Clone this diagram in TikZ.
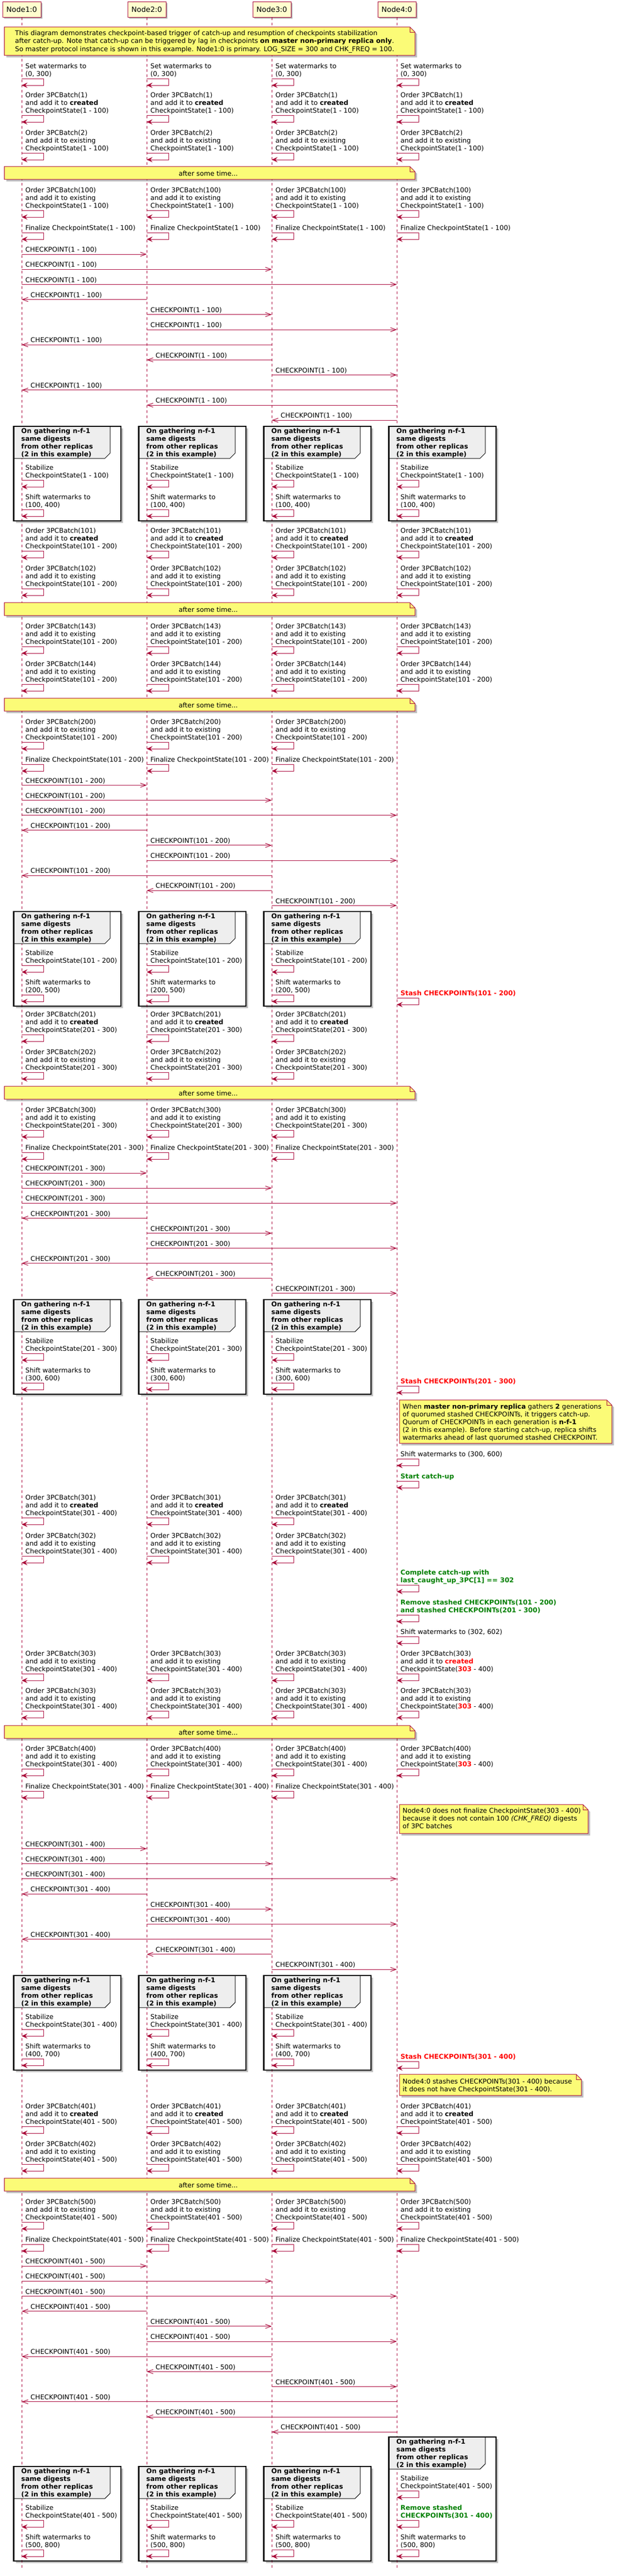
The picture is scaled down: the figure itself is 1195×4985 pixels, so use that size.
\documentclass[tikz,border=0pt]{standalone}
\usepackage{fontspec}
\setmainfont{DejaVu Sans}
\usetikzlibrary{arrows.meta,shadows}

\definecolor{umlred}{HTML}{A80036}
\definecolor{umlbox}{HTML}{FEFECE}
\definecolor{umlnote}{HTML}{FBFB77}
\definecolor{umlhead}{HTML}{EEEEEE}
\definecolor{umlgreen}{HTML}{008000}
\definecolor{umlstash}{HTML}{FF0000}

\pgfdeclarelayer{paper}
\pgfdeclarelayer{groupbg}
\pgfdeclarelayer{lanes}
\pgfsetlayers{paper,groupbg,lanes,main}

\newcommand{\msgfont}{\fontsize{12.8}{15}\selectfont}
\newcommand{\tstrut}{\rule{0pt}{10pt}}
\newcommand{\redb}[1]{\textcolor{umlstash}{\textbf{#1}}}
\newcommand{\grnb}[1]{\textcolor{umlgreen}{\textbf{#1}}}
\newcommand{\ordnew}[2]{Order 3PCBatch(#1)\\and add it to \textbf{created}\\CheckpointState(#2)}
\newcommand{\ordold}[2]{Order 3PCBatch(#1)\\and add it to existing\\CheckpointState(#2)}
\newcommand{\threeway}{1/2,1/3,1/4,2/1,2/3,2/4,3/1,3/2,3/4}
\newcommand{\fourway}{1/2,1/3,1/4,2/1,2/3,2/4,3/1,3/2,3/4,4/1,4/2,4/3}

% self message: name, lifeline, y of first line, lines, text
\newcommand{\selfmsg}[5]{%
  \pgfmathsetmacro{\ytxt}{#3-5.5}%
  \pgfmathsetmacro{\ytop}{#3+15*(#4-1)+9.5}%
  \pgfmathsetmacro{\ybot}{\ytop+12.5}%
  \node[msgtext, xshift=7pt] (#1) at (#2 |- 0,\ytxt) {\tstrut #5};%
  \coordinate (#1-a) at (#2 |- 0,\ytop);%
  \coordinate (#1-b) at (#2 |- 0,\ybot);%
  \draw[selfloop] (#1-a) -| ([xshift=42pt]#1-b) -- (#1-b);%
}

% message: sender, receiver, y, tag, label
\newcommand{\chkmsg}[5]{%
  \ifnum#1<#2\relax\def\cklx{7pt}\edef\cknd{n#1}\else\def\cklx{17pt}\edef\cknd{n#2}\fi
  \draw[chkline] (n#1 |- 0,#3) -- (n#2 |- 0,#3);%
  \node[msgtext, xshift=\cklx, yshift=14.5pt] (ck#4#1#2) at (\cknd |- 0,#3) {\tstrut #5};%
}

% group frame: name, lifeline x, top, bottom
\newcommand{\gatherbox}[4]{%
  \pgfmathsetmacro{\gxl}{#2-15.5}\pgfmathsetmacro{\gxr}{#2+192}%
  \pgfmathsetmacro{\gxh}{#2+171}\pgfmathsetmacro{\gxc}{#2+161}%
  \pgfmathsetmacro{\gyc}{#3+52}\pgfmathsetmacro{\gyh}{#3+62}%
  \begin{pgfonlayer}{groupbg}
    \fill[white, groupshadow] (\gxl,#3) rectangle (\gxr,#4);
  \end{pgfonlayer}
  \filldraw[grouphead] (\gxl,#3) -- (\gxh,#3) -- (\gxh,\gyc) -- (\gxc,\gyh) -- (\gxl,\gyh) -- cycle;
  \draw[groupframe] (\gxl,#3) rectangle (\gxr,#4);
  \node[headtext] (#1) at (#2-1,#3+3.5) {\tstrut On gathering n-f-1\\same digests\\from other replicas\\(2 in this example)};
}

% note shape with folded corner
\newcommand{\umlnote}[4]{%
  \filldraw[notebox] (#1,#2) -- ({#3-10},#2) -- (#3,{#2+10}) -- (#3,#4) -- (#1,#4) -- cycle;
  \draw[notefold] ({#3-10},#2) -- ({#3-10},{#2+10}) -- (#3,{#2+10});
}
\newcommand{\afterwhile}[2]{%
  \umlnote{8.4}{#2}{803}{#2+25}%
  \node[notetext, anchor=center] (#1) at (403,#2+13.5) {after some time...};
}

\begin{document}
\begin{tikzpicture}[x=1pt, y=-1pt,
    participant/.style={draw=umlred, fill=umlbox, line width=1pt, minimum width=74pt,
      minimum height=30pt, inner sep=0pt, font=\fontsize{14}{16}\selectfont,
      drop shadow={shadow xshift=3pt, shadow yshift=-3pt, opacity=0.3, fill=black}},
    lifeline/.style={draw=umlred, line width=0.8pt, dash pattern=on 5pt off 5pt},
    msgtext/.style={anchor=north west, inner sep=0pt, align=left, font=\msgfont},
    headtext/.style={anchor=north west, inner sep=0pt, align=left, font=\msgfont\bfseries},
    notetext/.style={inner sep=0pt, align=left, font=\msgfont},
    selfloop/.style={draw=umlred, line width=1pt, -{Stealth[length=11pt, width=10pt, inset=4pt]}},
    chkline/.style={draw=umlred, line width=1pt, -{Straight Barb[length=11pt, width=8pt]}},
    notebox/.style={fill=umlnote, draw=umlred, line width=1pt,
      drop shadow={shadow xshift=4pt, shadow yshift=-4pt, opacity=0.25, fill=black}},
    notefold/.style={draw=umlred, line width=1pt},
    groupshadow/.style={drop shadow={shadow xshift=4pt, shadow yshift=-4pt, opacity=0.25, fill=black}},
    groupframe/.style={draw=black, line width=2.5pt},
    grouphead/.style={fill=umlhead, draw=black, line width=1pt}]

    \useasboundingbox (0,0) rectangle (1195,4985);
    \begin{pgfonlayer}{paper}
        \fill[white] (0,0) rectangle (1195,4985);
    \end{pgfonlayer}

    % Participants
    \foreach \i/\x in {1/42,2/284,3/526,4/768}
        \node[participant] (n\i) at (\x,18) {Node\i:0};
    \begin{pgfonlayer}{lanes}
        \foreach \i in {1,...,4}
            \draw[lifeline] (n\i.south) -- (n\i |- 0,4973);
    \end{pgfonlayer}

    % Intro note
    \umlnote{8.4}{52}{803}{107}
    \node[notetext, anchor=north west, font=\fontsize{12.8}{15.7}\selectfont] (intro) at (29,57.8)
        {\tstrut This diagram demonstrates checkpoint-based trigger of catch-up and resumption of checkpoints stabilization\\
         after catch-up. Note that catch-up can be triggered by lag in checkpoints \textbf{on master non-primary replica only}.\\
         So master protocol instance is shown in this example. Node1:0 is primary. LOG\_SIZE = 300 and CHK\_FREQ = 100.};

    % Checkpoint 1 - 100
    \foreach \n in {n1,n2,n3,n4} {
        \selfmsg{\n-wm0}{\n}{128}{2}{Set watermarks to\\(0, 300)}
        \selfmsg{\n-o1}{\n}{184}{3}{\ordnew{1}{1 - 100}}
        \selfmsg{\n-o2}{\n}{257}{3}{\ordold{2}{1 - 100}}
        \selfmsg{\n-o100}{\n}{368}{3}{\ordold{100}{1 - 100}}
        \selfmsg{\n-f100}{\n}{441}{1}{Finalize CheckpointState(1 - 100)}
    }
    \afterwhile{t1}{322}
    \foreach \s/\t [count=\k from 0] in \fourway {
        \pgfmathsetmacro{\my}{492+29.2*\k}
        \chkmsg{\s}{\t}{\my}{a}{CHECKPOINT(1 - 100)}
    }
    \foreach \n/\x in {n1/42,n2/284,n3/526,n4/768} {
        \gatherbox{\n-g1}{\x}{825}{1008}
        \selfmsg{\n-st1}{\n}{905}{2}{Stabilize\\CheckpointState(1 - 100)}
        \selfmsg{\n-sh1}{\n}{962}{2}{Shift watermarks to\\(100, 400)}
    }

    % Checkpoint 101 - 200
    \foreach \n in {n1,n2,n3,n4} {
        \selfmsg{\n-o101}{\n}{1027}{3}{\ordnew{101}{101 - 200}}
        \selfmsg{\n-o102}{\n}{1100}{3}{\ordold{102}{101 - 200}}
        \selfmsg{\n-o143}{\n}{1212}{3}{\ordold{143}{101 - 200}}
        \selfmsg{\n-o144}{\n}{1285}{3}{\ordold{144}{101 - 200}}
    }
    \afterwhile{t2}{1166}
    \foreach \n in {n1,n2,n3} {
        \selfmsg{\n-o200}{\n}{1397}{3}{\ordold{200}{101 - 200}}
        \selfmsg{\n-f200}{\n}{1470}{1}{Finalize CheckpointState(101 - 200)}
    }
    \afterwhile{t3}{1351}
    \foreach \s/\t [count=\k from 0] in \threeway {
        \pgfmathsetmacro{\my}{1519.5+29.1*\k}
        \chkmsg{\s}{\t}{\my}{b}{CHECKPOINT(101 - 200)}
    }
    \foreach \n/\x in {n1/42,n2/284,n3/526} {
        \gatherbox{\n-g2}{\x}{1764}{1947}
        \selfmsg{\n-st2}{\n}{1844}{2}{Stabilize\\CheckpointState(101 - 200)}
        \selfmsg{\n-sh2}{\n}{1901}{2}{Shift watermarks to\\(200, 500)}
    }
    \selfmsg{n4-sb2}{n4}{1922}{1}{\redb{Stash CHECKPOINTs(101 - 200)}}

    % Checkpoint 201 - 300
    \foreach \n in {n1,n2,n3} {
        \selfmsg{\n-o201}{\n}{1963}{3}{\ordnew{201}{201 - 300}}
        \selfmsg{\n-o202}{\n}{2036}{3}{\ordold{202}{201 - 300}}
        \selfmsg{\n-o300}{\n}{2148}{3}{\ordold{300}{201 - 300}}
        \selfmsg{\n-f300}{\n}{2221}{1}{Finalize CheckpointState(201 - 300)}
    }
    \afterwhile{t4}{2102}
    \foreach \s/\t [count=\k from 0] in \threeway {
        \pgfmathsetmacro{\my}{2270+29.1*\k}
        \chkmsg{\s}{\t}{\my}{c}{CHECKPOINT(201 - 300)}
    }
    \foreach \n/\x in {n1/42,n2/284,n3/526} {
        \gatherbox{\n-g3}{\x}{2515}{2698}
        \selfmsg{\n-st3}{\n}{2595}{2}{Stabilize\\CheckpointState(201 - 300)}
        \selfmsg{\n-sh3}{\n}{2652}{2}{Shift watermarks to\\(300, 600)}
    }
    \selfmsg{n4-sb3}{n4}{2673}{1}{\redb{Stash CHECKPOINTs(201 - 300)}}

    % Catch-up on Node4:0
    \umlnote{773}{2709}{1184}{2793}
    \node[notetext, anchor=north west] (trigger) at (779,2716.5)
        {\tstrut When \textbf{master non-primary replica} gathers \textbf{2} generations\\
         of quorumed stashed CHECKPOINTs, it triggers catch-up.\\
         Quorum of CHECKPOINTs in each generation is \textbf{n-f-1}\\
         (2 in this example). Before starting catch-up, replica shifts\\
         watermarks ahead of last quorumed stashed CHECKPOINT.};
    \selfmsg{n4-wm3}{n4}{2814}{1}{Shift watermarks to (300, 600)}
    \selfmsg{n4-cu}{n4}{2857}{1}{\grnb{Start catch-up}}
    \foreach \n in {n1,n2,n3} {
        \selfmsg{\n-o301}{\n}{2898}{3}{\ordnew{301}{301 - 400}}
        \selfmsg{\n-o302}{\n}{2972}{3}{\ordold{302}{301 - 400}}
    }
    \selfmsg{n4-cd}{n4}{3043}{2}{\grnb{Complete catch-up with}\\\grnb{last\_caught\_up\_3PC[1] == 302}}
    \selfmsg{n4-rm}{n4}{3101}{2}{\grnb{Remove stashed CHECKPOINTs(101 - 200)}\\\grnb{and stashed CHECKPOINTs(201 - 300)}}
    \selfmsg{n4-wm4}{n4}{3158}{1}{Shift watermarks to (302, 602)}

    % Checkpoint 301 - 400
    \foreach \n in {n1,n2,n3} {
        \selfmsg{\n-o303}{\n}{3200}{3}{\ordold{303}{301 - 400}}
        \selfmsg{\n-o303x}{\n}{3272}{3}{\ordold{303}{301 - 400}}
        \selfmsg{\n-o400}{\n}{3384}{3}{\ordold{400}{301 - 400}}
        \selfmsg{\n-f400}{\n}{3457}{1}{Finalize CheckpointState(301 - 400)}
    }
    \selfmsg{n4-o303}{n4}{3200}{3}{Order 3PCBatch(303)\\and add it to \redb{created}\\CheckpointState(\redb{303} - 400)}
    \selfmsg{n4-o303x}{n4}{3272}{3}{Order 3PCBatch(303)\\and add it to existing\\CheckpointState(\redb{303} - 400)}
    \selfmsg{n4-o400}{n4}{3384}{3}{Order 3PCBatch(400)\\and add it to existing\\CheckpointState(\redb{303} - 400)}
    \afterwhile{t5}{3339}
    \umlnote{773}{3492}{1138}{3548}
    \node[notetext, anchor=north west] (nofinal) at (779,3498.5)
        {\tstrut Node4:0 does not finalize CheckpointState(303 - 400)\\
         because it does not contain 100 \textit{(CHK\_FREQ)} digests\\
         of 3PC batches};
    \foreach \s/\t [count=\k from 0] in \threeway {
        \pgfmathsetmacro{\my}{3577.5+29.2*\k}
        \chkmsg{\s}{\t}{\my}{d}{CHECKPOINT(301 - 400)}
    }
    \foreach \n/\x in {n1/42,n2/284,n3/526} {
        \gatherbox{\n-g4}{\x}{3823}{4006}
        \selfmsg{\n-st4}{\n}{3903}{2}{Stabilize\\CheckpointState(301 - 400)}
        \selfmsg{\n-sh4}{\n}{3960}{2}{Shift watermarks to\\(400, 700)}
    }
    \selfmsg{n4-sb4}{n4}{3980}{1}{\redb{Stash CHECKPOINTs(301 - 400)}}
    \umlnote{773}{4014}{1125}{4055}
    \node[notetext, anchor=north west] (stashnote) at (779,4022.5)
        {\tstrut Node4:0 stashes CHECKPOINTs(301 - 400) because\\
         it does not have CheckpointState(301 - 400).};

    % Checkpoint 401 - 500
    \foreach \n in {n1,n2,n3,n4} {
        \selfmsg{\n-o401}{\n}{4076}{3}{\ordnew{401}{401 - 500}}
        \selfmsg{\n-o402}{\n}{4149}{3}{\ordold{402}{401 - 500}}
        \selfmsg{\n-o500}{\n}{4261}{3}{\ordold{500}{401 - 500}}
        \selfmsg{\n-f500}{\n}{4334}{1}{Finalize CheckpointState(401 - 500)}
    }
    \afterwhile{t6}{4215}
    \foreach \s/\t [count=\k from 0] in \fourway {
        \pgfmathsetmacro{\my}{4385+29.2*\k}
        \chkmsg{\s}{\t}{\my}{e}{CHECKPOINT(401 - 500)}
    }
    \foreach \n/\x in {n1/42,n2/284,n3/526} {
        \gatherbox{\n-g5}{\x}{4773}{4956}
        \selfmsg{\n-st5}{\n}{4853}{2}{Stabilize\\CheckpointState(401 - 500)}
        \selfmsg{\n-sh5}{\n}{4910}{2}{Shift watermarks to\\(500, 800)}
    }
    \gatherbox{n4-g5}{768}{4716}{4956}
    \selfmsg{n4-st5}{n4}{4796}{2}{Stabilize\\CheckpointState(401 - 500)}
    \selfmsg{n4-rm5}{n4}{4853}{2}{\grnb{Remove stashed}\\\grnb{CHECKPOINTs(301 - 400)}}
    \selfmsg{n4-sh5}{n4}{4910}{2}{Shift watermarks to\\(500, 800)}

\end{tikzpicture}
\end{document}
